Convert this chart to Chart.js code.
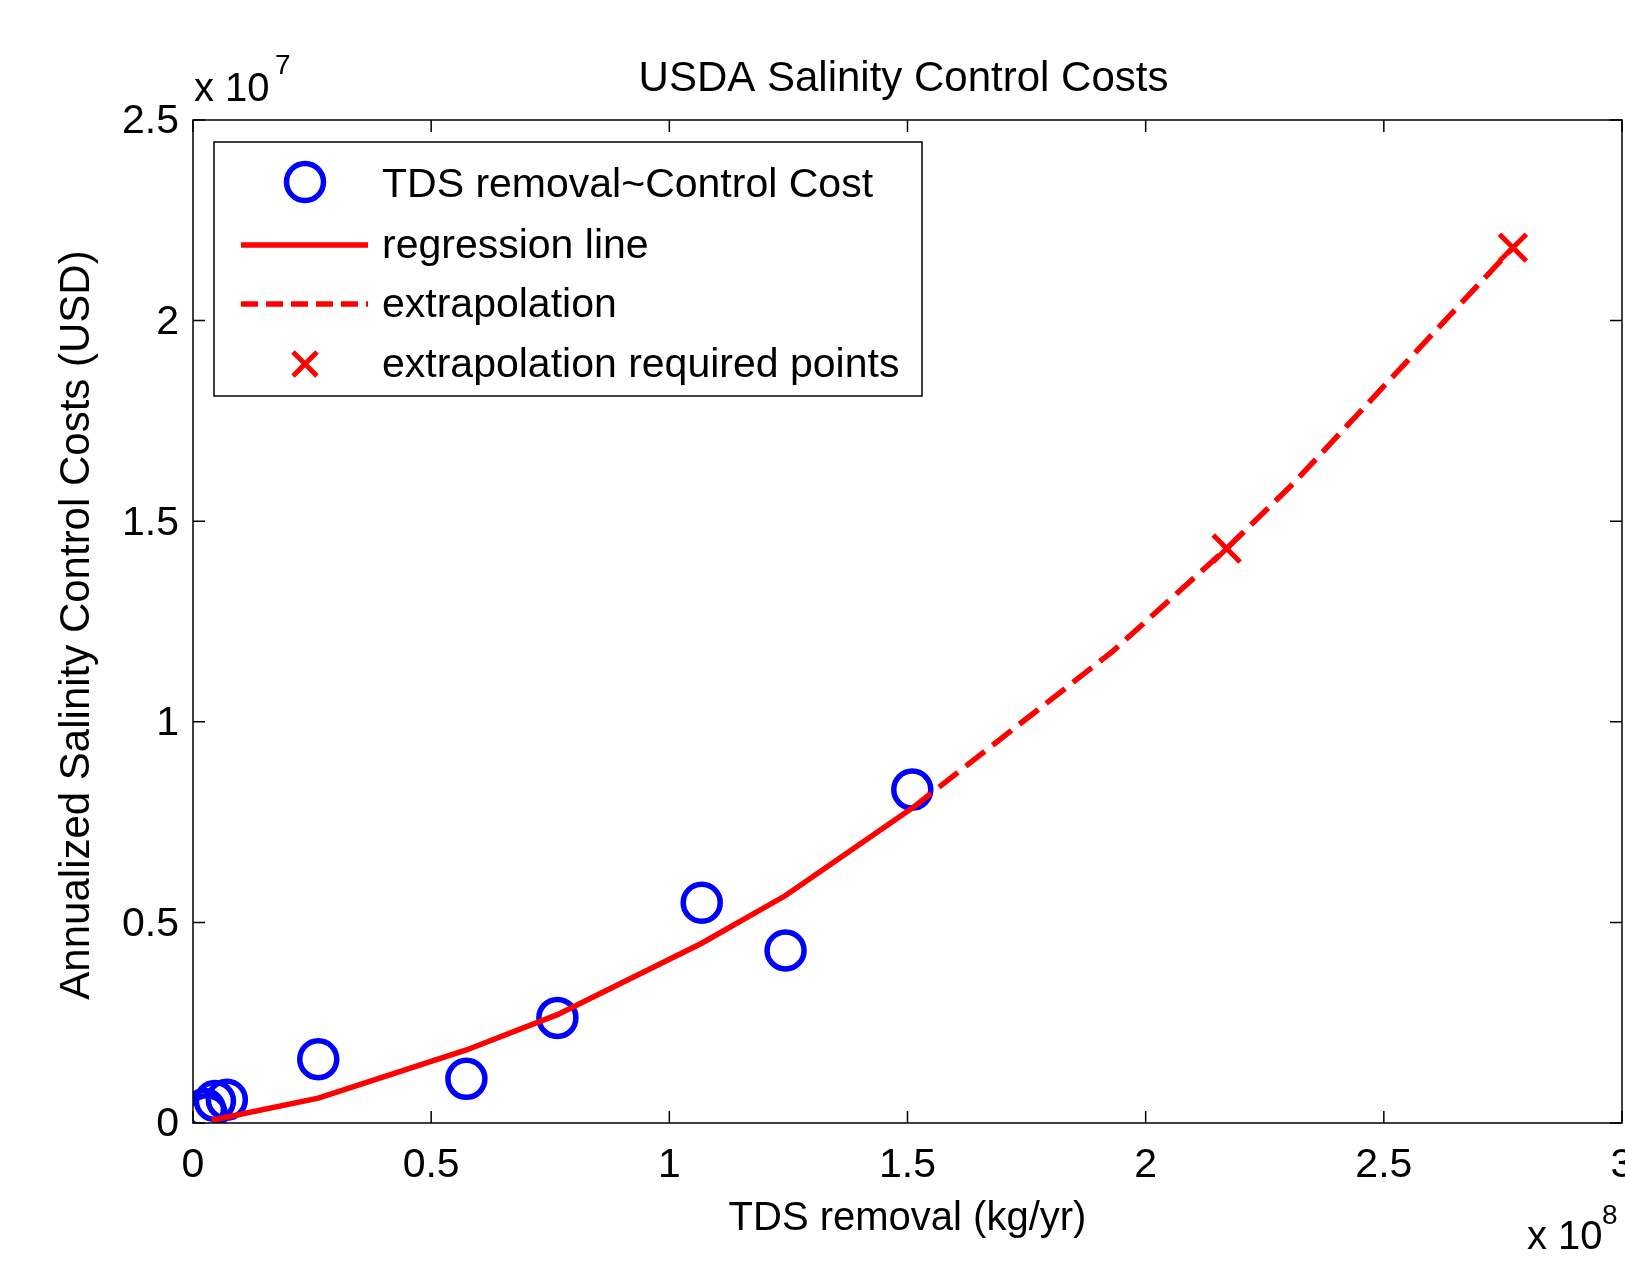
<!DOCTYPE html>
<html>
<head>
<meta charset="utf-8">
<script src="https://cdn.jsdelivr.net/npm/chart.js@4/dist/chart.umd.min.js"></script>
<style>
  html, body { margin: 0; padding: 0; background: #fff; overflow: hidden; }
  #wrap { width: 1625px; height: 1274px; position: relative; }
  canvas { display: block; }
</style>
</head>
<body>
<div id="wrap"><canvas id="chart"></canvas></div>
<script>
// measured samples (kg/yr, USD)
const tdsRemoval = [2.5e6, 2.9e6, 4.6e6, 7.1e6, 2.63e7, 5.74e7, 7.65e7, 1.068e8, 1.244e8, 1.51e8];
const controlCost = [3.5e5, 2.2e5, 5.5e5, 5.8e5, 1.59e6, 1.10e6, 2.62e6, 5.49e6, 4.30e6, 8.31e6];

// regression curve over the sampled range
const regX = [3.9e6, 2.63e7, 5.74e7, 7.65e7, 1.068e8, 1.244e8, 1.51e8];
const regY = [7e4, 6.2e5, 1.82e6, 2.70e6, 4.48e6, 5.67e6, 7.85e6];

// extrapolated part of the curve
const extX = [1.51e8, 1.93e8, 2.17e8, 2.31e8, 2.771e8];
const extY = [7.85e6, 1.175e7, 1.432e7, 1.594e7, 2.182e7];

// points that needed the extrapolation
const reqX = [2.17e8, 2.771e8];
const reqY = [1.432e7, 2.182e7];

const xTicks = [0, 0.5, 1, 1.5, 2, 2.5, 3];
const yTicks = [0, 0.5, 1, 1.5, 2, 2.5];

const legendLabels = ['TDS removal~Control Cost', 'regression line', 'extrapolation', 'extrapolation required points'];

const FONT = "'Liberation Sans', Arial, sans-serif";
const BLUE = '#0000ff';
const RED = '#ff0000';

const toPts = (xs, ys) => xs.map((x, i) => ({ x: x, y: ys[i] }));

// draws the matlab-ish box, inward ticks, labels and legend
const matlabFrame = {
  id: 'matlabFrame',
  afterDraw(chart) {
    const ctx = chart.ctx;
    const a = chart.chartArea;
    const xs = chart.scales.x, ys = chart.scales.y;
    ctx.save();

    // box
    ctx.strokeStyle = '#000';
    ctx.lineWidth = 1.5;
    ctx.strokeRect(a.left, a.top, a.right - a.left, a.bottom - a.top);

    // inward ticks
    const tl = 12;
    ctx.beginPath();
    xTicks.forEach(t => {
      const px = xs.getPixelForValue(t * 1e8);
      ctx.moveTo(px, a.bottom); ctx.lineTo(px, a.bottom - tl);
      ctx.moveTo(px, a.top); ctx.lineTo(px, a.top + tl);
    });
    yTicks.forEach(t => {
      const py = ys.getPixelForValue(t * 1e7);
      ctx.moveTo(a.left, py); ctx.lineTo(a.left + tl, py);
      ctx.moveTo(a.right, py); ctx.lineTo(a.right - tl, py);
    });
    ctx.stroke();

    // tick labels
    ctx.fillStyle = '#000';
    ctx.font = '41px ' + FONT;
    ctx.textAlign = 'center';
    ctx.textBaseline = 'alphabetic';
    xTicks.forEach(t => {
      ctx.fillText(String(t), xs.getPixelForValue(t * 1e8), a.bottom + 54);
    });
    ctx.textAlign = 'right';
    ctx.textBaseline = 'middle';
    yTicks.forEach(t => {
      ctx.fillText(String(t), a.left - 14, ys.getPixelForValue(t * 1e7) + 2);
    });

    // exponents
    ctx.textAlign = 'left';
    ctx.textBaseline = 'alphabetic';
    ctx.font = '40px ' + FONT;
    ctx.fillText('x 10', 194, 101);
    ctx.fillText('x 10', 1527, 1249);
    ctx.font = '28px ' + FONT;
    ctx.fillText('7', 275, 74);
    ctx.fillText('8', 1602, 1224);

    // titles
    ctx.textAlign = 'center';
    ctx.font = '42px ' + FONT;
    ctx.fillText('USDA Salinity Control Costs', (a.left + a.right) / 2 - 4, 91);
    ctx.font = '40px ' + FONT;
    ctx.fillText('TDS removal (kg/yr)', (a.left + a.right) / 2, 1230);
    ctx.save();
    ctx.translate(89, 625);
    ctx.rotate(-Math.PI / 2);
    ctx.font = '42px ' + FONT;
    ctx.fillText('Annualized Salinity Control Costs (USD)', 0, 0);
    ctx.restore();

    // legend
    const lx = 214, ly = 142, lw = 708, lh = 254;
    ctx.fillStyle = '#fff';
    ctx.fillRect(lx, ly, lw, lh);
    ctx.strokeStyle = '#000';
    ctx.lineWidth = 1.5;
    ctx.strokeRect(lx, ly, lw, lh);
    const rows = [184, 245, 304, 364];
    const mx = 305;
    // circle
    ctx.strokeStyle = BLUE;
    ctx.lineWidth = 5.5;
    ctx.beginPath();
    ctx.arc(mx, rows[0] - 2, 18.5, 0, Math.PI * 2);
    ctx.stroke();
    // solid
    ctx.strokeStyle = RED;
    ctx.lineWidth = 5.5;
    ctx.beginPath();
    ctx.moveTo(241, rows[1]); ctx.lineTo(368, rows[1]);
    ctx.stroke();
    // dashed
    ctx.setLineDash([17, 8]);
    ctx.beginPath();
    ctx.moveTo(241, rows[2]); ctx.lineTo(368, rows[2]);
    ctx.stroke();
    ctx.setLineDash([]);
    // cross
    ctx.lineWidth = 5;
    ctx.beginPath();
    ctx.moveTo(mx - 12, rows[3] - 12); ctx.lineTo(mx + 12, rows[3] + 12);
    ctx.moveTo(mx + 12, rows[3] - 12); ctx.lineTo(mx - 12, rows[3] + 12);
    ctx.stroke();
    ctx.fillStyle = '#000';
    ctx.font = '41px ' + FONT;
    ctx.textAlign = 'left';
    ctx.textBaseline = 'middle';
    legendLabels.forEach((t, i) => ctx.fillText(t, 382, rows[i] + 2));

    ctx.restore();
  }
};

new Chart(document.getElementById('chart'), {
  type: 'scatter',
  data: {
    datasets: [
      {
        label: legendLabels[0],
        data: toPts(tdsRemoval, controlCost),
        pointStyle: 'circle',
        pointRadius: 18.5,
        pointBorderWidth: 5.5,
        borderColor: BLUE,
        backgroundColor: 'rgba(0,0,0,0)',
        showLine: false,
        order: 2
      },
      {
        label: legendLabels[1],
        data: toPts(regX, regY),
        showLine: true,
        borderColor: RED,
        borderWidth: 5.5,
        pointRadius: 0,
        order: 1
      },
      {
        label: legendLabels[2],
        data: toPts(extX, extY),
        showLine: true,
        borderColor: RED,
        borderWidth: 5.5,
        borderDash: [24, 10],
        pointRadius: 0,
        order: 1
      },
      {
        label: legendLabels[3],
        data: toPts(reqX, reqY),
        pointStyle: 'crossRot',
        pointRadius: 19,
        pointBorderWidth: 5,
        borderColor: RED,
        backgroundColor: RED,
        showLine: false,
        order: 0
      }
    ]
  },
  options: {
    responsive: true,
    maintainAspectRatio: false,
    animation: false,
    layout: { autoPadding: false, padding: { left: 193, top: 120, right: 3, bottom: 151 } },
    plugins: {
      legend: { display: false },
      tooltip: { enabled: false },
      title: { display: false }
    },
    scales: {
      x: {
        type: 'linear',
        display: false,
        min: 0,
        max: 3e8,
        ticks: { stepSize: 0.5e8 }
      },
      y: {
        type: 'linear',
        display: false,
        min: 0,
        max: 2.5e7,
        ticks: { stepSize: 0.5e7 }
      }
    }
  },
  plugins: [matlabFrame]
});
</script>
</body>
</html>
